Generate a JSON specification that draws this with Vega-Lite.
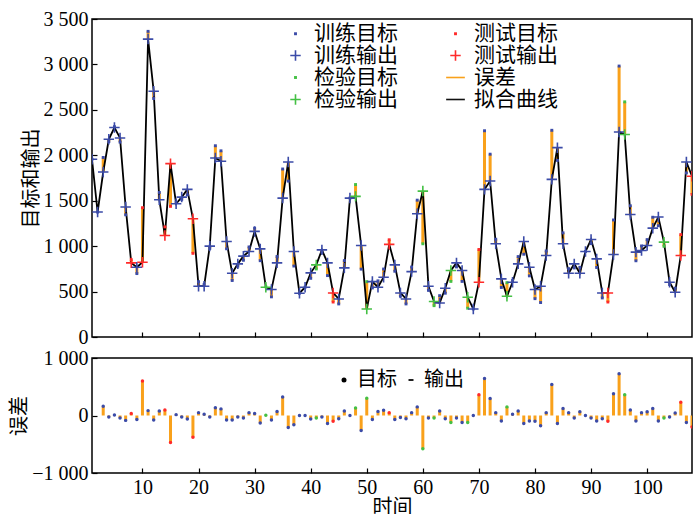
{
  "$schema": "https://vega.github.io/schema/vega-lite/v6.json",
  "background": "white",
  "padding": {"left": 8, "top": 8, "right": 0, "bottom": 0},
  "config": {
    "view": {"stroke": "black", "strokeWidth": 1.5},
    "axis": {
      "grid": false, "domain": false, "tickColor": "black", "tickSize": -5, "tickWidth": 1.2,
      "labelFont": "Liberation Serif", "labelFontSize": 20, "labelColor": "black", "labelPadding": 9,
      "titleFont": "Noto Sans CJK SC", "titleFontSize": 20, "titleFontWeight": "normal", "titleColor": "black"
    }
  },
  "datasets": {
    "d": [
      {"x":1,"set":"训练","o":1956,"e":null,"t":1956},
      {"x":2,"set":"训练","o":1375,"e":null,"t":1375},
      {"x":3,"set":"训练","o":1816,"e":160,"t":1976},
      {"x":4,"set":"训练","o":2176,"e":-25,"t":2151},
      {"x":5,"set":"训练","o":2305,"e":10,"t":2315},
      {"x":6,"set":"训练","o":2191,"e":-45,"t":2146},
      {"x":7,"set":"训练","o":1430,"e":-85,"t":1345},
      {"x":8,"set":"测试","o":816,"e":35,"t":851},
      {"x":9,"set":"训练","o":768,"e":-70,"t":698},
      {"x":10,"set":"测试","o":823,"e":600,"t":1423},
      {"x":11,"set":"训练","o":3279,"e":85,"t":3364},
      {"x":12,"set":"训练","o":2705,"e":-80,"t":2625},
      {"x":13,"set":"训练","o":1511,"e":80,"t":1591},
      {"x":14,"set":"测试","o":1117,"e":95,"t":1212},
      {"x":15,"set":"测试","o":1908,"e":-470,"t":1438},
      {"x":16,"set":"训练","o":1467,"e":15,"t":1482},
      {"x":17,"set":"训练","o":1540,"e":-25,"t":1515},
      {"x":18,"set":"训练","o":1625,"e":-60,"t":1565},
      {"x":19,"set":"测试","o":1301,"e":-380,"t":921},
      {"x":20,"set":"训练","o":559,"e":50,"t":609},
      {"x":21,"set":"训练","o":559,"e":20,"t":579},
      {"x":22,"set":"训练","o":1000,"e":-25,"t":975},
      {"x":23,"set":"训练","o":1970,"e":135,"t":2105},
      {"x":24,"set":"训练","o":1934,"e":115,"t":2049},
      {"x":25,"set":"训练","o":1051,"e":-80,"t":971},
      {"x":26,"set":"训练","o":702,"e":-80,"t":622},
      {"x":27,"set":"训练","o":805,"e":-25,"t":780},
      {"x":28,"set":"训练","o":890,"e":-45,"t":845},
      {"x":29,"set":"训练","o":941,"e":50,"t":991},
      {"x":30,"set":"训练","o":1162,"e":35,"t":1197},
      {"x":31,"set":"训练","o":970,"e":-130,"t":840},
      {"x":32,"set":"检验","o":548,"e":5,"t":553},
      {"x":33,"set":"训练","o":522,"e":-80,"t":442},
      {"x":34,"set":"训练","o":816,"e":70,"t":886},
      {"x":35,"set":"训练","o":1529,"e":320,"t":1849},
      {"x":36,"set":"训练","o":1926,"e":-210,"t":1716},
      {"x":37,"set":"训练","o":941,"e":-160,"t":781},
      {"x":38,"set":"训练","o":482,"e":0,"t":482},
      {"x":39,"set":"训练","o":548,"e":0,"t":548},
      {"x":40,"set":"训练","o":706,"e":-60,"t":646},
      {"x":41,"set":"检验","o":794,"e":-45,"t":749},
      {"x":42,"set":"训练","o":959,"e":-25,"t":934},
      {"x":43,"set":"训练","o":816,"e":-140,"t":676},
      {"x":44,"set":"测试","o":485,"e":-100,"t":385},
      {"x":45,"set":"训练","o":419,"e":-55,"t":364},
      {"x":46,"set":"训练","o":761,"e":80,"t":841},
      {"x":47,"set":"训练","o":1529,"e":0,"t":1529},
      {"x":48,"set":"检验","o":1548,"e":130,"t":1678},
      {"x":49,"set":"训练","o":1007,"e":-260,"t":747},
      {"x":50,"set":"检验","o":309,"e":300,"t":609},
      {"x":51,"set":"训练","o":610,"e":-70,"t":540},
      {"x":52,"set":"训练","o":548,"e":70,"t":618},
      {"x":53,"set":"训练","o":658,"e":90,"t":748},
      {"x":54,"set":"测试","o":1020,"e":50,"t":1070},
      {"x":55,"set":"训练","o":794,"e":-70,"t":724},
      {"x":56,"set":"训练","o":485,"e":-35,"t":450},
      {"x":57,"set":"训练","o":419,"e":-55,"t":364},
      {"x":58,"set":"训练","o":720,"e":50,"t":770},
      {"x":59,"set":"训练","o":1356,"e":150,"t":1506},
      {"x":60,"set":"检验","o":1606,"e":-580,"t":1026},
      {"x":61,"set":"训练","o":559,"e":-45,"t":514},
      {"x":62,"set":"检验","o":390,"e":-45,"t":345},
      {"x":63,"set":"训练","o":375,"e":80,"t":455},
      {"x":64,"set":"训练","o":537,"e":-55,"t":482},
      {"x":65,"set":"检验","o":732,"e":-120,"t":612},
      {"x":66,"set":"训练","o":816,"e":-45,"t":771},
      {"x":67,"set":"训练","o":732,"e":-120,"t":612},
      {"x":68,"set":"检验","o":437,"e":-120,"t":317},
      {"x":69,"set":"训练","o":309,"e":0,"t":309},
      {"x":70,"set":"测试","o":603,"e":360,"t":963},
      {"x":71,"set":"训练","o":1625,"e":645,"t":2270},
      {"x":72,"set":"训练","o":1717,"e":295,"t":2012},
      {"x":73,"set":"训练","o":1026,"e":50,"t":1076},
      {"x":74,"set":"训练","o":640,"e":-95,"t":545},
      {"x":75,"set":"检验","o":448,"e":150,"t":598},
      {"x":76,"set":"训练","o":603,"e":20,"t":623},
      {"x":77,"set":"训练","o":805,"e":80,"t":885},
      {"x":78,"set":"训练","o":1051,"e":-140,"t":911},
      {"x":79,"set":"训练","o":768,"e":-95,"t":673},
      {"x":80,"set":"训练","o":522,"e":-100,"t":422},
      {"x":81,"set":"训练","o":559,"e":-180,"t":379},
      {"x":82,"set":"训练","o":897,"e":50,"t":947},
      {"x":83,"set":"训练","o":1735,"e":540,"t":2275},
      {"x":84,"set":"训练","o":2084,"e":-140,"t":1944},
      {"x":85,"set":"训练","o":1026,"e":120,"t":1146},
      {"x":86,"set":"训练","o":702,"e":50,"t":752},
      {"x":87,"set":"训练","o":805,"e":-45,"t":760},
      {"x":88,"set":"训练","o":702,"e":65,"t":767},
      {"x":89,"set":"训练","o":941,"e":0,"t":941},
      {"x":90,"set":"训练","o":1073,"e":-45,"t":1028},
      {"x":91,"set":"训练","o":860,"e":-95,"t":765},
      {"x":92,"set":"训练","o":485,"e":-55,"t":430},
      {"x":93,"set":"测试","o":485,"e":-100,"t":385},
      {"x":94,"set":"训练","o":908,"e":380,"t":1288},
      {"x":95,"set":"训练","o":2257,"e":725,"t":2982},
      {"x":96,"set":"检验","o":2228,"e":360,"t":2588},
      {"x":97,"set":"训练","o":1349,"e":95,"t":1444},
      {"x":98,"set":"训练","o":934,"e":-95,"t":839},
      {"x":99,"set":"训练","o":952,"e":50,"t":1002},
      {"x":100,"set":"训练","o":1007,"e":65,"t":1072},
      {"x":101,"set":"训练","o":1198,"e":120,"t":1318},
      {"x":102,"set":"训练","o":1320,"e":-95,"t":1225},
      {"x":103,"set":"检验","o":1044,"e":-45,"t":999},
      {"x":104,"set":"训练","o":603,"e":-25,"t":578},
      {"x":105,"set":"训练","o":493,"e":45,"t":538},
      {"x":106,"set":"测试","o":897,"e":230,"t":1127},
      {"x":107,"set":"训练","o":1926,"e":-120,"t":1806},
      {"x":108,"set":"测试","o":1770,"e":-200,"t":1570}
    ]
  },
  "data": {"name": "d"},
  "spacing": 21,
  "bounds": "flush",
  "resolve": {
    "scale": {"color": "independent", "shape": "independent", "y": "independent"},
    "legend": {"color": "independent", "shape": "independent"}
  },
  "vconcat": [
    {
      "width": 600,
      "height": 318,
      "encoding": {
        "x": {"field": "x", "type": "quantitative", "scale": {"domain": [1, 108], "nice": false, "zero": false},
              "axis": {"values": [10,20,30,40,50,60,70,80,90,100], "labels": false, "title": null}}
      },
      "layer": [
        {
          "mark": {"type": "rule", "color": "#f9a11b", "strokeWidth": 3, "clip": true},
          "encoding": {
            "y": {"field": "o", "type": "quantitative", "scale": {"domain": [0, 3500], "nice": false},
                  "axis": {"values": [0,500,1000,1500,2000,2500,3000,3500], "title": "目标和输出", "titlePadding": 2,
                           "labelExpr": "replace(format(datum.value, ','), ',', ' ')"}},
            "y2": {"field": "t"}
          }
        },
        {
          "mark": {"type": "line", "color": "black", "strokeWidth": 1.8, "clip": true},
          "encoding": {"y": {"field": "o", "type": "quantitative"}}
        },
        {
          "transform": [
            {"fold": ["t", "o"], "as": ["k", "v"]},
            {"calculate": "datum.set + (datum.k === 't' ? '目标' : '输出')", "as": "s"}
          ],
          "mark": {"type": "point", "filled": false, "opacity": 1, "size": 121, "strokeWidth": 1.6, "clip": true},
          "encoding": {
            "y": {"field": "v", "type": "quantitative"},
            "color": {"field": "s", "type": "nominal",
                      "scale": {"domain": ["训练目标","训练输出","检验目标","检验输出","测试目标","测试输出","误差","拟合曲线"],
                                "range": ["#3b4ba8","#3b4ba8","#44c044","#44c044","#ff2a2a","#ff2a2a","#f9a11b","#111111"]},
                      "legend": {"orient": "none", "legendX": 193, "legendY": 4, "columns": 2, "columnPadding": 44, "rowPadding": 0,
                                 "title": null, "padding": 0, "labelFont": "Noto Sans CJK SC", "labelFontSize": 21, "labelColor": "black",
                                 "labelOffset": 8, "symbolOpacity": 1, "symbolSize": 121, "symbolStrokeWidth": 1.6,
                                 "encode": {"symbols": {"update": {
                                   "strokeWidth": {"signal": "datum.value === '误差' ? 3.5 : 1.6"}}}}}},
            "shape": {"field": "s", "type": "nominal",
                      "scale": {"domain": ["训练目标","训练输出","检验目标","检验输出","测试目标","测试输出","误差","拟合曲线"],
                                "range": ["M-0.12,-0.12H0.12V0.12H-0.12Z","M-0.95,0H0.95M0,-0.95V0.95","M-0.12,-0.12H0.12V0.12H-0.12Z","M-0.95,0H0.95M0,-0.95V0.95","M-0.12,-0.12H0.12V0.12H-0.12Z","M-0.95,0H0.95M0,-0.95V0.95","M-1.7,0H1.7","M-1.7,0H1.7"]}}
          }
        }
      ]
    },
    {
      "width": 600,
      "height": 115,
      "encoding": {
        "x": {"field": "x", "type": "quantitative", "scale": {"domain": [1, 108], "nice": false, "zero": false},
              "axis": {"values": [10,20,30,40,50,60,70,80,90,100], "title": "时间", "titlePadding": 0}}
      },
      "layer": [
        {
          "mark": {"type": "rule", "color": "#f9a11b", "strokeWidth": 3, "clip": true},
          "encoding": {
            "y": {"field": "e", "type": "quantitative", "scale": {"domain": [-1000, 1000], "nice": false},
                  "axis": {"values": [-1000, 0, 1000], "title": "误差", "titlePadding": 2,
                           "labelExpr": "replace(format(datum.value, ','), ',', ' ')"}},
            "y2": {"datum": 0}
          }
        },
        {
          "mark": {"type": "rule", "color": "#a0a0a0", "strokeWidth": 2},
          "encoding": {"y": {"datum": 0}}
        },
        {
          "mark": {"type": "point", "filled": true, "opacity": 1, "size": 12, "clip": true},
          "encoding": {
            "y": {"field": "e", "type": "quantitative"},
            "color": {"field": "set", "type": "nominal",
                      "scale": {"domain": ["训练","测试","检验"], "range": ["#3b4ba8","#ff2a2a","#44c044"]},
                      "legend": null},
            "shape": {"datum": "目标",
                      "scale": {"domain": ["目标","输出"], "range": ["circle","M-1,-0.35H1V0.35H-1Z"]},
                      "legend": {"orient": "none", "legendX": 242, "legendY": 12, "direction": "horizontal", "title": null,
                                 "padding": 0, "columnPadding": 4, "labelFont": "Noto Sans CJK SC", "labelFontSize": 20,
                                 "labelColor": "black", "labelOffset": 3, "symbolSize": 25, "symbolStrokeWidth": 0,
                                 "encode": {"symbols": {"update": {
                                   "fill": {"signal": "datum.value === '目标' ? '#3b4ba8' : '#555555'"},
                                   "fillOpacity": {"value": 1},
                                   "opacity": {"value": 1}}}}}}
          }
        }
      ]
    }
  ]
}
